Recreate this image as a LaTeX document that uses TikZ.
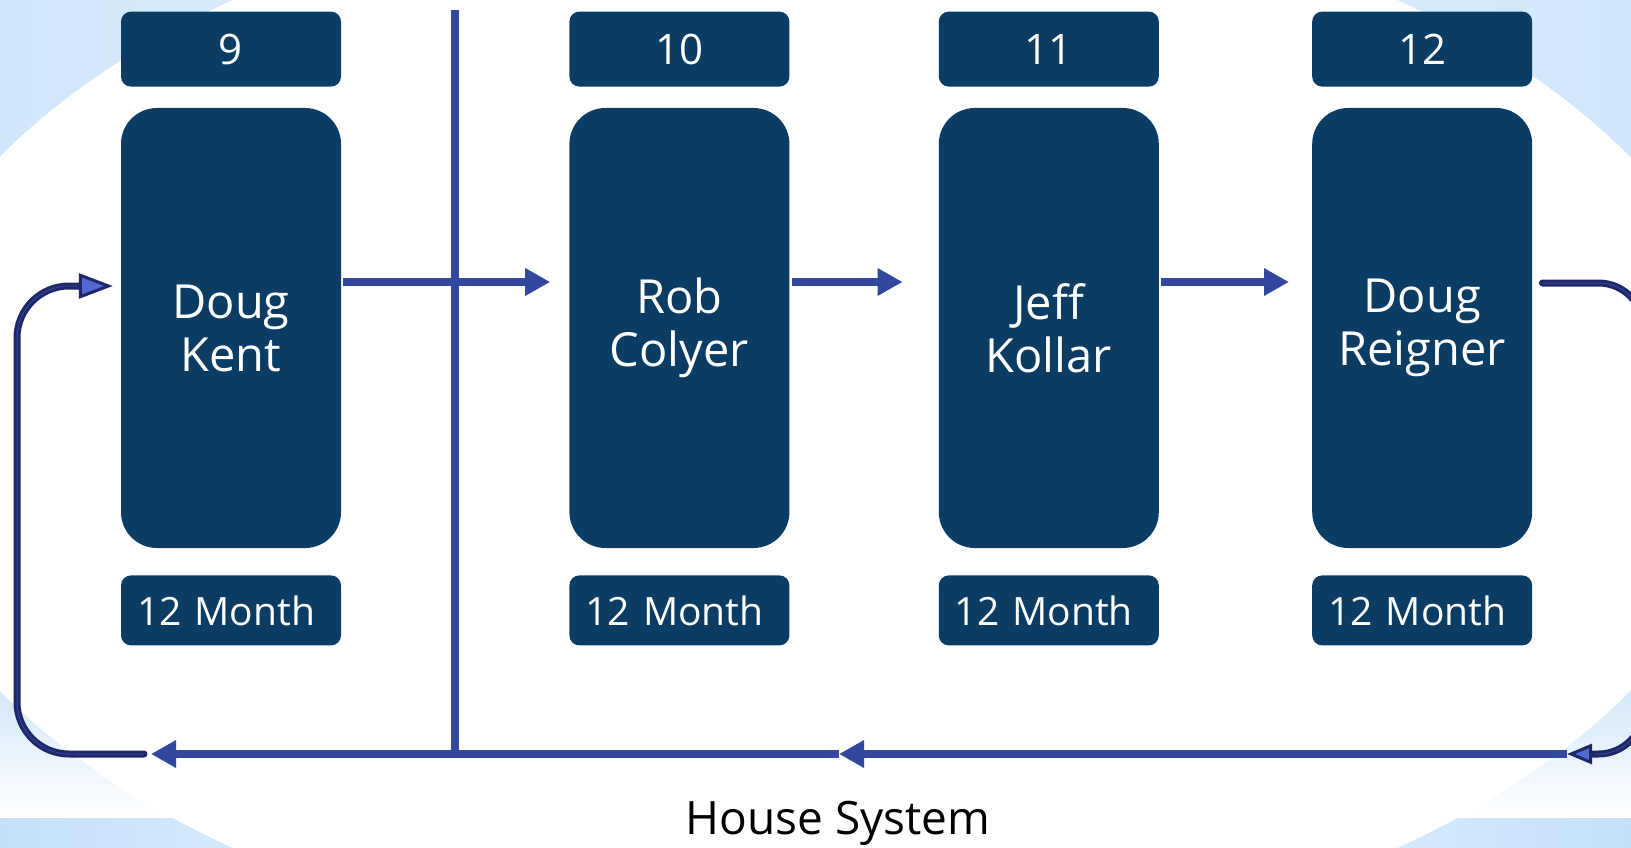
\documentclass[tikz,border=0pt]{standalone}
\usepackage{fontspec}
\setmainfont{Open Sans}
\usetikzlibrary{arrows.meta,positioning}
\definecolor{boxnavy}{RGB}{10,60,100}
\definecolor{flowblue}{RGB}{50,72,158}
\definecolor{loopnavy}{RGB}{30,40,105}
\definecolor{loopmid}{RGB}{52,68,150}
\definecolor{tipblue}{RGB}{82,106,210}
\definecolor{bgblue}{RGB}{208,230,250}
\definecolor{bandblue}{RGB}{196,224,249}

\begin{document}
\begin{tikzpicture}
[x=1pt,y=-1pt,
 namebox/.style={rectangle,rounded corners=36pt,fill=boxnavy,text=white,minimum width=220pt,minimum height=440pt,align=center,font=\fontsize{47}{53}\selectfont},
 numbox/.style={rectangle,rounded corners=10pt,fill=boxnavy,text=white,minimum width=220pt,minimum height=75pt,font=\fontsize{42}{50}\selectfont},
 termbox/.style={rectangle,rounded corners=10pt,fill=boxnavy,text=white,minimum height=70pt,text width=188pt,inner xsep=16pt,align=left,font=\fontsize{39}{46}\selectfont},
 flow/.style={draw=flowblue,line width=8pt,shorten <=2pt,-{Triangle[length=25pt,width=26pt]}},
 loopline/.style={draw=loopnavy,line width=7pt,line cap=round,rounded corners=#1},
 loopcore/.style={draw=loopmid,line width=1pt,rounded corners=#1}]
\useasboundingbox (0,0) rectangle (1631,848);
\clip (0,0) rectangle (1631,848);
% background
\shade[left color=bgblue,right color=bgblue,middle color=white!60!bgblue] (0,0) rectangle (1631,818);
\shade[top color=bgblue,bottom color=white] (0,680) rectangle (1631,818);
\shade[left color=bandblue,right color=bandblue,middle color=white] (0,818) rectangle (1631,848);
\fill[white] (815,424) ellipse [x radius=937pt,y radius=541pt];

% columns
\node[namebox] (kent) at (231,328) {Doug\\Kent};
\node[namebox] (colyer) [right=228pt of kent] {Rob\\Colyer};
\node[namebox] (kollar) [right=149pt of colyer] {Jeff\\Kollar};
\node[namebox] (reigner) [right=153pt of kollar] {Doug\\Reigner};
\node[numbox] (kentnum) [above=21pt of kent] {9};
\node[numbox] (colyernum) [above=21pt of colyer] {10};
\node[numbox] (kollarnum) [above=21pt of kollar] {11};
\node[numbox] (reignernum) [above=21pt of reigner] {12};
\node[termbox] (kentterm) [below=27pt of kent] {12 Month};
\node[termbox] (colyerterm) [below=27pt of colyer] {12 Month};
\node[termbox] (kollarterm) [below=27pt of kollar] {12 Month};
\node[termbox] (reignerterm) [below=27pt of reigner] {12 Month};
\node[font=\fontsize{46}{54}\selectfont,anchor=base] (house) at (838,834) {House System};

% points on the return line
\coordinate (divtop) at (455,10);
\coordinate (divbot) at (455,754);
\coordinate (backin) at (1567,754);
\coordinate (backmid) at (839,754);
\coordinate (backout) at (151,754);
\coordinate (loopstart) at (144,754);

\draw[draw=flowblue,line width=8pt] (divtop) -- (divbot);
\draw[flow,shorten >=19pt] ([yshift=46pt]kent.east) -- ([yshift=46pt]colyer.west);
\draw[flow,shorten >=36pt] ([yshift=46pt]colyer.east) -- ([yshift=46pt]kollar.west);
\draw[flow,shorten >=23pt] ([yshift=46pt]kollar.east) -- ([yshift=46pt]reigner.west);
\draw[flow,shorten <=0pt] (backin) -- (backmid);
\draw[flow,shorten <=0pt] (backmid) -- (backout);

\draw[loopline=45pt,-{Triangle[length=25pt,width=20pt,fill=tipblue,line width=3pt]}]
  ([xshift=10pt,yshift=45pt]reigner.east) -- ++(101,0) -- ++(0,471) -- (backin);
\draw[loopcore=45pt,shorten >=27pt]
  ([xshift=10pt,yshift=45pt]reigner.east) -- ++(101,0) -- ++(0,471) -- (backin);
\draw[loopline=52pt,-{Triangle[length=34pt,width=25pt,fill=tipblue,line width=3pt]}]
  (loopstart) -- (17,754) -- (17,286) -- ([xshift=-8pt,yshift=42pt]kent.west);
\draw[loopcore=52pt,shorten >=36pt]
  (loopstart) -- (17,754) -- (17,286) -- ([xshift=-8pt,yshift=42pt]kent.west);
\end{tikzpicture}
\end{document}
